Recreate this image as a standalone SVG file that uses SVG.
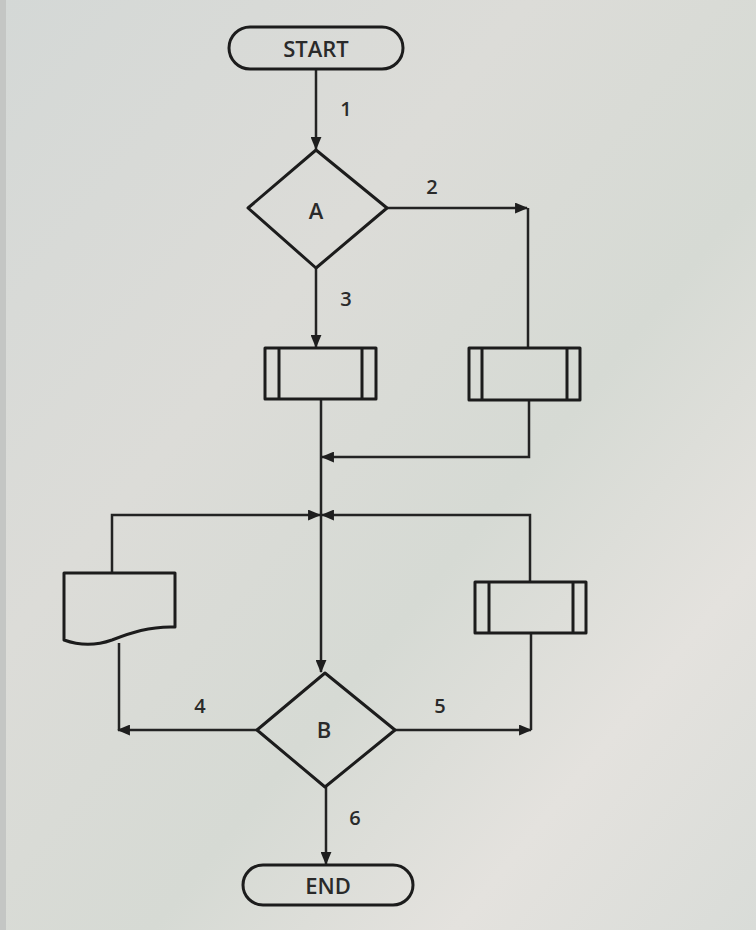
<svg xmlns="http://www.w3.org/2000/svg" width="756" height="930" viewBox="0 0 756 930">
  <defs>
    <linearGradient id="bg" x1="0" y1="0" x2="1" y2="1">
      <stop offset="0" stop-color="#d4d8d6"/>
      <stop offset="0.35" stop-color="#dcdcd8"/>
      <stop offset="0.6" stop-color="#d6dad4"/>
      <stop offset="0.8" stop-color="#e4e2de"/>
      <stop offset="1" stop-color="#d9dcd8"/>
    </linearGradient>
    <marker id="ah" viewBox="0 0 12 10" refX="11" refY="5" markerWidth="13" markerHeight="11" markerUnits="userSpaceOnUse" orient="auto">
      <path d="M0,0 L12,5 L0,10 Z" fill="#1e1e1e"/>
    </marker>
    <style>
      .s{fill:none;stroke:#1c1c1c;stroke-width:3;stroke-linejoin:round}
      .c{fill:none;stroke:#232323;stroke-width:2.5}
      .t{font-family:"Open Sans","Liberation Sans",sans-serif;font-size:22px;font-weight:600;fill:#2a2a2a;text-anchor:middle;dominant-baseline:central}
      .n{font-family:"Open Sans","Liberation Sans",sans-serif;font-size:20px;font-weight:600;fill:#2a2a2a;text-anchor:middle;dominant-baseline:central}
    </style>
  </defs>
  <rect x="0" y="0" width="756" height="930" fill="url(#bg)"/>
  <rect x="0" y="0" width="6" height="930" fill="#c4c6c4"/>

  <g id="connectors">
    <path class="c" d="M316,70 V149" marker-end="url(#ah)"/>
    <path class="c" d="M387,208 H527" marker-end="url(#ah)"/>
    <path class="c" d="M528,208 V348"/>
    <path class="c" d="M316,268 V347" marker-end="url(#ah)"/>
    <path class="c" d="M321,399 V672" marker-end="url(#ah)"/>
    <path class="c" d="M529,400 V457 H322" marker-end="url(#ah)"/>
    <path class="c" d="M112,573 V515 H320" marker-end="url(#ah)"/>
    <path class="c" d="M530,582 V515 H322" marker-end="url(#ah)"/>
    <path class="c" d="M257,730 H118" marker-end="url(#ah)"/>
    <path class="c" d="M119,730 V643"/>
    <path class="c" d="M395,730 H531" marker-end="url(#ah)"/>
    <path class="c" d="M531,730 V633"/>
    <path class="c" d="M326,787 V864" marker-end="url(#ah)"/>
    <text class="n" x="346" y="108">1</text>
    <text class="n" x="432" y="186">2</text>
    <text class="n" x="346" y="298">3</text>
    <text class="n" x="200" y="705">4</text>
    <text class="n" x="440" y="705">5</text>
    <text class="n" x="355" y="817">6</text>
  </g>

  <g id="start">
    <rect class="s" x="229" y="27" width="174" height="42" rx="21"/>
    <text class="t" x="316" y="48">START</text>
  </g>
  <g id="decisionA">
    <path class="s" d="M316,150 L387,208 L316,268 L248,208 Z"/>
    <text class="t" x="316" y="210">A</text>
  </g>
  <g id="process1">
    <rect class="s" x="265" y="348" width="111" height="51"/>
    <path class="s" d="M279,348 V399 M362,348 V399"/>
  </g>
  <g id="process2">
    <rect class="s" x="469" y="348" width="111" height="52"/>
    <path class="s" d="M482,348 V400 M567,348 V400"/>
  </g>
  <g id="document">
    <path class="s" d="M64,573 H175 V627 C150,626 130,633 112,640 C95,646 78,645 64,640 Z"/>
  </g>
  <g id="process3">
    <rect class="s" x="475" y="582" width="111" height="51"/>
    <path class="s" d="M489,582 V633 M573,582 V633"/>
  </g>
  <g id="decisionB">
    <path class="s" d="M325,673 L395,730 L325,787 L257,730 Z"/>
    <text class="t" x="324" y="729">B</text>
  </g>
  <g id="end">
    <rect class="s" x="243" y="865" width="170" height="40" rx="20"/>
    <text class="t" x="328" y="885">END</text>
  </g>
</svg>
